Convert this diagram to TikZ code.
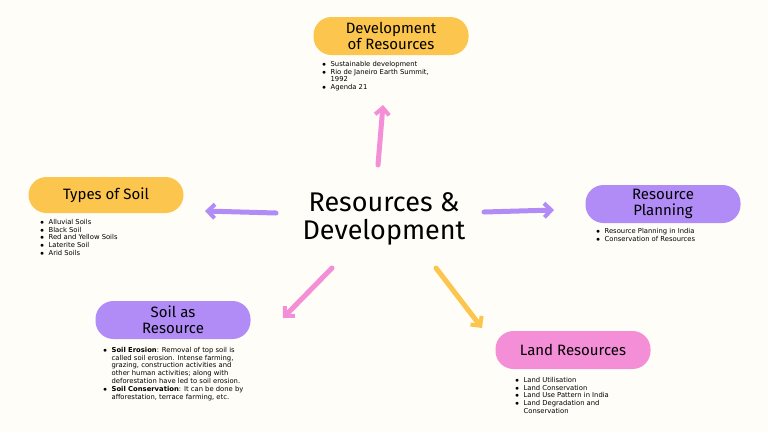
\documentclass[tikz,border=0pt]{standalone}
\usepackage{fontspec}
\setmainfont{Fira Sans}
\newfontfamily\wide{DejaVu Sans}
\usetikzlibrary{arrows.meta}
\definecolor{bg}{HTML}{FFFDF7}
\definecolor{yel}{HTML}{FCC54E}
\definecolor{pur}{HTML}{B18CF7}
\definecolor{pnk}{HTML}{F48ED6}
\begin{document}
\begin{tikzpicture}[x=1pt,y=-1pt,
 pill/.style={rounded corners=18pt,minimum width=155pt,minimum height=38pt,align=center,font=\fontsize{15}{16}\selectfont,inner sep=1pt},
 arr/.style={line width=5pt,-{Straight Barb[length=7pt,width=14pt,line width=4pt]},line cap=round},
 lst/.style={align=left,anchor=north west,font=\wide\fontsize{6.8}{7.8}\selectfont,inner sep=0pt}]
\fill[bg] (0,0) rectangle (768,432);
\useasboundingbox (0,0) rectangle (768,432);
\node[font=\fontsize{27}{28}\selectfont,align=center] (c) at (384,219) {Resources \&\\Development};
\node[pill,fill=yel] (dr) at (391,36) {Development\\of Resources};
\node[pill,fill=yel,minimum height=36pt] (ts) at (106,195) {Types of Soil};
\node[pill,fill=pur] (rp) at (663,204) {Resource\\Planning};
\node[pill,fill=pur] (sr) at (173,320) {Soil as\\Resource};
\node[pill,fill=pnk] (lr) at (573,350) {Land Resources};
\node[lst] (l1) at (322,61) {$\bullet$\ \ Sustainable development\\$\bullet$\ \ Rio de Janeiro Earth Summit,\\\phantom{$\bullet$\ \ }1992\\$\bullet$\ \ Agenda 21};
\node[lst] (l2) at (40,219) {$\bullet$\ \ Alluvial Soils\\$\bullet$\ \ Black Soil\\$\bullet$\ \ Red and Yellow Soils\\$\bullet$\ \ Laterite Soil\\$\bullet$\ \ Arid Soils};
\node[lst] (l3) at (596,228) {$\bullet$\ \ Resource Planning in India\\$\bullet$\ \ Conservation of Resources};
\node[lst] (l4) at (103,347) {$\bullet$\ \ \textbf{Soil Erosion}: Removal of top soil is\\\phantom{$\bullet$\ \ }called soil erosion. Intense farming,\\\phantom{$\bullet$\ \ }grazing, construction activities and\\\phantom{$\bullet$\ \ }other human activities; along with\\\phantom{$\bullet$\ \ }deforestation have led to soil erosion.\\$\bullet$\ \ \textbf{Soil Conservation}: It can be done by\\\phantom{$\bullet$\ \ }afforestation, terrace farming, etc.};
\node[lst] (l5) at (515,377) {$\bullet$\ \ Land Utilisation\\$\bullet$\ \ Land Conservation\\$\bullet$\ \ Land Use Pattern in India\\$\bullet$\ \ Land Degradation and\\\phantom{$\bullet$\ \ }Conservation};
\coordinate (a1s) at (378,165); \coordinate (a1e) at (383,105);
\coordinate (a2s) at (276,213); \coordinate (a2e) at (205,211);
\coordinate (a3s) at (484,212); \coordinate (a3e) at (554,210);
\coordinate (a4s) at (332,268); \coordinate (a4e) at (283,318);
\coordinate (a5s) at (436,268); \coordinate (a5e) at (482,328);
\draw[arr,pnk] (a1s) -- (a1e);
\draw[arr,pur] (a2s) -- (a2e);
\draw[arr,pur] (a3s) -- (a3e);
\draw[arr,pnk] (a4s) -- (a4e);
\draw[arr,yel] (a5s) -- (a5e);
\end{tikzpicture}
\end{document}
